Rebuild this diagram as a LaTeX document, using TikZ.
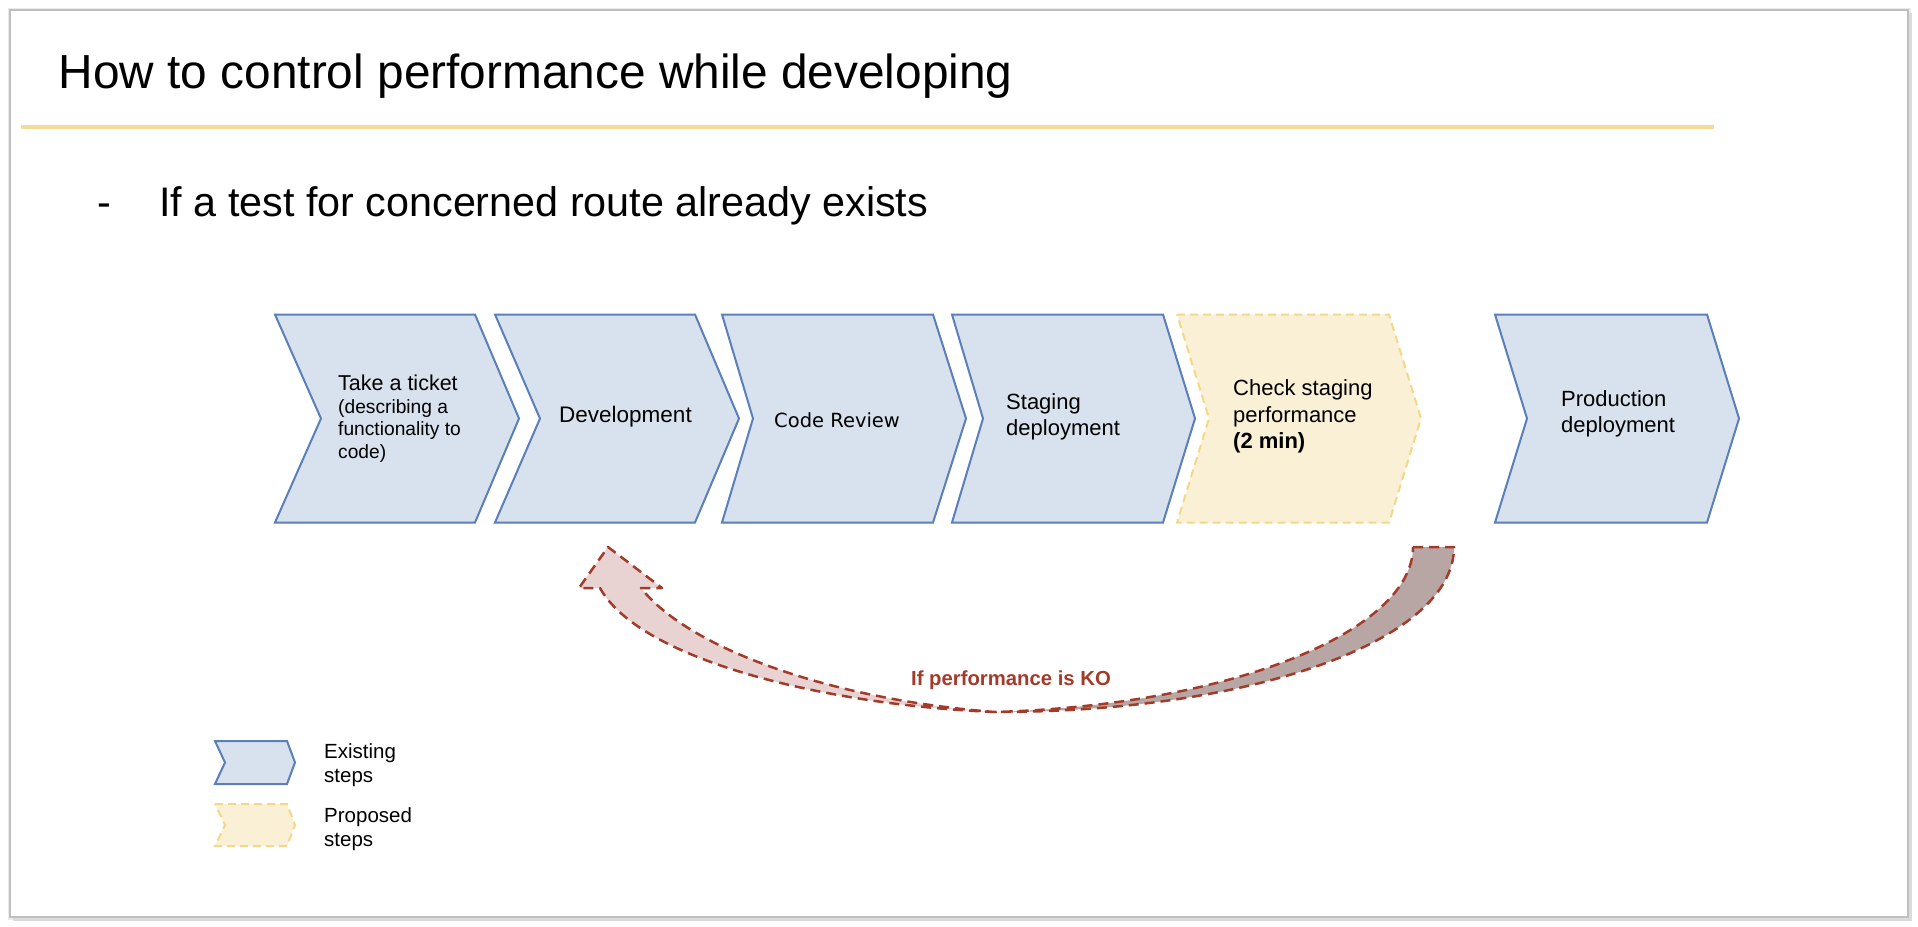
\documentclass[tikz,border=0pt]{standalone}
\usepackage{fontspec}
\setmainfont{Liberation Sans}
\newfontfamily\vfont{DejaVu Sans}
\definecolor{stepfill}{HTML}{D8E2EE}
\definecolor{stepline}{HTML}{5B7FB9}
\definecolor{propfill}{HTML}{FAF0D5}
\definecolor{propline}{HTML}{F3D88A}
\definecolor{koline}{HTML}{A33B2B}
\definecolor{kodark}{HTML}{B8A6A4}
\definecolor{kolight}{HTML}{E8D3D2}
\definecolor{rulecol}{HTML}{F3DC97}
\newcommand\mkchev[5]{\draw[#1] (#2,314.5) -- (#4,314.5) -- (#5,418.5) -- (#4,522.5) -- (#2,522.5) -- (#3,418.5) -- cycle;}
\tikzset{
  existing/.style={fill=stepfill, draw=stepline, line width=2pt, line join=miter},
  proposed/.style={fill=propfill, draw=propline, line width=2pt, dash pattern=on 8pt off 5pt},
  lbl/.style={inner sep=0pt, anchor=base west},
  fbig/.style={font=\fontsize{22}{26}\selectfont},
  fsmall/.style={font=\fontsize{19.2}{23}\selectfont},
  flegend/.style={font=\fontsize{20.5}{24}\selectfont},
  koedge/.style={draw=koline, line width=2.5pt, dash pattern=on 10pt off 6pt, line join=round}
}
\begin{document}
\begin{tikzpicture}[x=1pt,y=-1pt]
\useasboundingbox (0,0) rectangle (1918,926);
\fill[white] (0,0) rectangle (1918,926);
% slide frame with shadow
\draw[black!8, line width=5pt] (10,10) rectangle (1908,917);
\draw[black!14, line width=3pt] (1910,13) -- (1910,919) -- (13,919);
\fill[white] (11,11) rectangle (1907,916);
\draw[black!25, line width=1.2pt] (10,10) rectangle (1908,917);
% title and rule
\node[lbl, font=\fontsize{47.8}{56}\selectfont] (title) at (58.5,88) {How to control performance while developing};
\draw[rulecol, line width=4pt] (21,127) -- (1714,127);
\node[lbl, font=\fontsize{41.3}{48}\selectfont] (dash) at (97,216.5) {-};
\node[lbl, font=\fontsize{41.3}{48}\selectfont] (sub) at (159,216.5) {If a test for concerned route already exists};
% chevrons
\mkchev{existing}{275}{321}{475}{519}
\mkchev{existing}{495}{540}{695}{739}
\mkchev{existing}{722}{753}{933}{966}
\mkchev{existing}{952}{983}{1163}{1195}
\mkchev{proposed}{1177}{1209}{1389}{1421}
\mkchev{existing}{1495}{1527}{1707}{1739}
% chevron texts
\node[lbl, font=\fontsize{21.5}{26}\selectfont] (t1a) at (338,390) {Take a ticket};
\node[lbl, fsmall] (t1b) at (338,413) {(describing a};
\node[lbl, fsmall] (t1c) at (338,435.5) {functionality to};
\node[lbl, fsmall] (t1d) at (338,458) {code)};
\node[lbl, font=\fontsize{22.5}{26}\selectfont] (t2) at (559,422) {Development};
\node[lbl, font=\fontsize{19.5}{24}\vfont] (t3) at (774,427) {Code Review};
\node[lbl, fbig] (t4a) at (1006,409) {Staging};
\node[lbl, fbig] (t4b) at (1006,435) {deployment};
\node[lbl, fbig] (t5a) at (1233,395.5) {Check staging};
\node[lbl, fbig] (t5b) at (1233,422) {performance};
\node[lbl, fbig] (t5c) at (1233,448.5) {\bfseries (2 min)};
\node[lbl, fbig] (t6a) at (1561,406) {Production};
\node[lbl, fbig] (t6b) at (1561,432) {deployment};
% KO curved arrow
\coordinate (X) at (995,712);
\coordinate (RI) at (1413,547);
\coordinate (RO) at (1454,547);
\coordinate (LO) at (600,588);
\coordinate (LB) at (579,588);
\coordinate (TIP) at (608,547);
\coordinate (RB) at (662,588);
\coordinate (LI) at (641,588);
\fill[kodark] (RI) -- (RO) .. controls (1454,640) and (1255,712) .. (X)
   .. controls (1235,705) and (1413,630) .. (RI) -- cycle;
\fill[kolight] (X) .. controls (825,705) and (640,660) .. (LO) -- (LB) -- (TIP) -- (RB) -- (LI)
   .. controls (690,650) and (835,700) .. (X) -- cycle;
\draw[koedge] (RI) -- (RO) .. controls (1454,640) and (1255,712) .. (X)
   .. controls (825,705) and (640,660) .. (LO) -- (LB) -- (TIP) -- (RB) -- (LI)
   .. controls (690,650) and (835,700) .. (X)
   .. controls (1235,705) and (1413,630) .. (RI);
\node[lbl, font=\fontsize{20.3}{26}\selectfont\bfseries, text=koline] (ko) at (911,685) {If performance is KO};
% legend
\draw[existing] (215,741) -- (287,741) -- (295,762.5) -- (287,784) -- (215,784) -- (225,762.5) -- cycle;
\draw[proposed] (215,804) -- (287,804) -- (295,825) -- (287,846) -- (215,846) -- (225,825) -- cycle;
\node[lbl, flegend] (lg1a) at (324,758) {Existing};
\node[lbl, flegend] (lg1b) at (324,782) {steps};
\node[lbl, flegend] (lg2a) at (324,822) {Proposed};
\node[lbl, flegend] (lg2b) at (324,846) {steps};
\end{tikzpicture}
\end{document}
